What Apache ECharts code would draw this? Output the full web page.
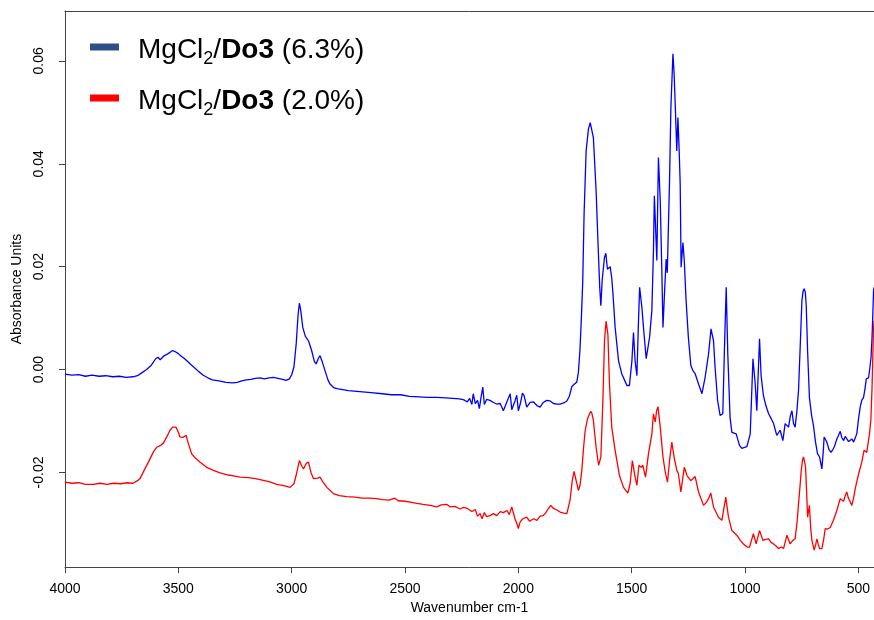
<!DOCTYPE html>
<html>
<head>
<meta charset="utf-8">
<script src="https://cdn.jsdelivr.net/npm/echarts@6/dist/echarts.min.js"></script>
<style>
html,body{margin:0;padding:0;background:#fff;}
#c{width:874px;height:620px;}
</style>
</head>
<body>
<div id="c"></div>
<script>
// Series names
var seriesNames = ['MgCl2/Do3 (6.3%)', 'MgCl2/Do3 (2.0%)'];
// Axis ticks
var xTicks = [500, 1000, 1500, 2000, 2500, 3000, 3500, 4000];
var yTicks = [-0.02, 0.00, 0.02, 0.04, 0.06];

// Blue spectrum (6.3%): wavenumber / absorbance
var blueWave = [4000,3970,3940,3910,3880,3850,3820,3790,3760,3730,3700,3680,3660,3640,3620,3600,3590,3580,3565,3545,3525,3515,3500,3490,3475,3460,3445,3430,3410,3390,3370,3350,3320,3290,3260,3240,3220,3200,3180,3160,3140,3120,3100,3080,3060,3040,3025,3010,3000,2990,2980,2972,2966,2960,2951,2940,2934,2925,2912,2900,2892,2882,2875,2865,2853,2840,2831,2815,2800,2750,2700,2650,2600,2560,2520,2480,2440,2400,2360,2320,2290,2260,2240,2225,2215,2205,2199,2190,2180,2172,2165,2157,2150,2140,2125,2110,2095,2080,2066,2050,2036,2029,2022,2014,2007,2000,1990,1982,1975,1963,1948,1933,1918,1904,1890,1875,1860,1845,1830,1816,1800,1786,1775,1764,1752,1742,1735,1728,1722,1716,1710,1701,1691,1683,1678,1669,1657,1649,1641,1636,1630,1620,1614,1607,1601,1595,1588,1583,1573,1558,1544,1530,1521,1510,1499,1492,1485,1477,1471,1465,1455,1448,1436,1421,1411,1404,1400,1392,1389,1382,1374,1367,1362,1355,1348,1343,1333,1327,1318,1313,1307,1301,1296,1291,1286,1282,1274,1268,1260,1250,1239,1230,1220,1205,1190,1176,1161,1150,1139,1132,1121,1110,1098,1091,1083,1076,1066,1058,1039,1024,1014,992,977,965,955,948,942,936,929,919,908,896,885,874,860,845,833,823,818,808,800,793,786,779,771,764,757,749,744,739,734,730,724,716,706,698,689,680,671,661,655,651,645,639,630,621,613,606,600,595,588,580,573,565,558,551,543,536,528,521,514,507,499,492,485,477,470,465,455,449,444,440,436,433,431];
var blueAbs = [-0.0009,-0.0011,-0.0010,-0.0013,-0.0011,-0.0013,-0.0012,-0.0014,-0.0013,-0.0015,-0.0014,-0.0012,-0.0006,0.0000,0.0008,0.0021,0.0024,0.0019,0.0026,0.0031,0.0037,0.0035,0.0031,0.0027,0.0022,0.0016,0.0010,0.0004,-0.0004,-0.0011,-0.0016,-0.0020,-0.0022,-0.0025,-0.0026,-0.0025,-0.0022,-0.0020,-0.0019,-0.0017,-0.0016,-0.0018,-0.0016,-0.0015,-0.0017,-0.0019,-0.0021,-0.0018,-0.0010,0.0005,0.0050,0.0105,0.0129,0.0115,0.0082,0.0065,0.0066,0.0055,0.0037,0.0016,0.0011,0.0022,0.0027,0.0015,-0.0002,-0.0020,-0.0028,-0.0035,-0.0037,-0.0041,-0.0043,-0.0045,-0.0047,-0.0049,-0.0049,-0.0052,-0.0053,-0.0054,-0.0054,-0.0055,-0.0056,-0.0057,-0.0059,-0.0063,-0.0056,-0.0068,-0.0047,-0.0066,-0.0060,-0.0076,-0.0055,-0.0034,-0.0068,-0.0058,-0.0060,-0.0064,-0.0067,-0.0066,-0.0080,-0.0062,-0.0047,-0.0078,-0.0080,-0.0060,-0.0050,-0.0080,-0.0064,-0.0046,-0.0050,-0.0073,-0.0064,-0.0063,-0.0070,-0.0073,-0.0064,-0.0060,-0.0061,-0.0066,-0.0067,-0.0067,-0.0065,-0.0061,-0.0052,-0.0033,-0.0028,-0.0024,-0.0005,0.0040,0.0100,0.0170,0.0302,0.0425,0.0467,0.0480,0.0480,0.0451,0.0348,0.0251,0.0160,0.0124,0.0175,0.0218,0.0226,0.0195,0.0192,0.0200,0.0178,0.0150,0.0082,0.0017,-0.0008,-0.0022,-0.0031,-0.0031,0.0017,0.0072,0.0017,-0.0012,0.0080,0.0160,0.0121,0.0082,0.0021,0.0063,0.0115,0.0231,0.0338,0.0338,0.0212,0.0412,0.0328,0.0192,0.0082,0.0150,0.0215,0.0188,0.0367,0.0509,0.0614,0.0577,0.0503,0.0425,0.0490,0.0432,0.0361,0.0199,0.0247,0.0212,0.0134,0.0063,0.0008,-0.0002,-0.0008,-0.0028,-0.0047,-0.0015,0.0030,0.0079,0.0056,0.0004,-0.0060,-0.0089,-0.0086,0.0037,0.0160,0.0030,-0.0093,-0.0122,-0.0125,-0.0148,-0.0153,-0.0150,-0.0125,0.0021,-0.0028,-0.0080,-0.0010,0.0060,-0.0012,-0.0050,-0.0070,-0.0086,-0.0095,-0.0105,-0.0128,-0.0118,-0.0138,-0.0105,-0.0108,-0.0112,-0.0090,-0.0080,-0.0105,-0.0112,-0.0080,-0.0041,0.0040,0.0134,0.0152,0.0157,0.0150,0.0125,0.0037,-0.0054,-0.0090,-0.0109,-0.0141,-0.0164,-0.0170,-0.0193,-0.0160,-0.0131,-0.0136,-0.0141,-0.0155,-0.0161,-0.0156,-0.0150,-0.0142,-0.0135,-0.0128,-0.0120,-0.0132,-0.0138,-0.0130,-0.0128,-0.0140,-0.0138,-0.0135,-0.0141,-0.0133,-0.0125,-0.0095,-0.0073,-0.0060,-0.0054,-0.0035,-0.0018,-0.0016,0.0004,0.0024,0.0060,0.0110,0.0153,0.0160];

// Red spectrum (2.0%): wavenumber / absorbance
var redWave = [4000,3970,3940,3910,3875,3845,3815,3785,3755,3725,3700,3680,3669,3650,3632,3610,3595,3580,3566,3550,3537,3525,3510,3500,3493,3480,3466,3455,3441,3425,3404,3375,3345,3316,3280,3250,3228,3190,3160,3140,3100,3066,3030,3007,2990,2980,2966,2955,2948,2935,2926,2915,2904,2885,2875,2860,2845,2816,2790,2757,2720,2690,2660,2625,2600,2570,2545,2530,2500,2470,2448,2420,2389,2360,2340,2316,2300,2280,2257,2242,2225,2205,2190,2180,2169,2160,2150,2140,2125,2110,2095,2080,2066,2050,2040,2029,2015,2006,2000,1992,1980,1963,1950,1933,1918,1904,1890,1882,1870,1857,1845,1830,1816,1800,1786,1772,1762,1754,1745,1735,1728,1720,1712,1705,1695,1685,1680,1675,1669,1657,1646,1636,1627,1620,1613,1605,1598,1588,1573,1554,1536,1517,1507,1497,1485,1477,1468,1458,1451,1439,1426,1411,1404,1396,1390,1384,1374,1362,1352,1342,1333,1323,1313,1301,1294,1283,1268,1256,1239,1220,1205,1183,1170,1161,1151,1139,1117,1102,1085,1073,1058,1036,1021,1007,990,980,963,951,936,921,908,896,885,874,863,852,840,830,815,801,789,779,770,764,757,752,746,742,737,733,728,724,716,710,705,695,688,683,677,671,661,653,646,636,624,610,595,580,572,565,558,551,544,539,529,521,514,499,485,475,469,463,456,451,445,440,436,433,431];
var redAbs = [-0.0219,-0.0221,-0.0220,-0.0223,-0.0223,-0.0221,-0.0223,-0.0221,-0.0222,-0.0220,-0.0221,-0.0216,-0.0212,-0.0195,-0.0180,-0.0160,-0.0151,-0.0148,-0.0143,-0.0130,-0.0118,-0.0112,-0.0112,-0.0122,-0.0131,-0.0132,-0.0128,-0.0145,-0.0164,-0.0172,-0.0180,-0.0190,-0.0196,-0.0201,-0.0205,-0.0207,-0.0209,-0.0210,-0.0212,-0.0214,-0.0218,-0.0223,-0.0226,-0.0229,-0.0222,-0.0205,-0.0177,-0.0188,-0.0193,-0.0182,-0.0180,-0.0200,-0.0212,-0.0211,-0.0209,-0.0220,-0.0229,-0.0241,-0.0245,-0.0247,-0.0248,-0.0250,-0.0250,-0.0251,-0.0253,-0.0254,-0.0250,-0.0255,-0.0256,-0.0258,-0.0260,-0.0262,-0.0264,-0.0267,-0.0263,-0.0262,-0.0267,-0.0266,-0.0271,-0.0268,-0.0270,-0.0276,-0.0272,-0.0285,-0.0280,-0.0290,-0.0278,-0.0286,-0.0284,-0.0280,-0.0284,-0.0276,-0.0278,-0.0274,-0.0282,-0.0267,-0.0290,-0.0300,-0.0309,-0.0296,-0.0290,-0.0287,-0.0295,-0.0290,-0.0293,-0.0285,-0.0284,-0.0280,-0.0272,-0.0264,-0.0270,-0.0273,-0.0277,-0.0279,-0.0280,-0.0254,-0.0215,-0.0198,-0.0216,-0.0235,-0.0225,-0.0196,-0.0150,-0.0118,-0.0096,-0.0085,-0.0081,-0.0086,-0.0099,-0.0151,-0.0186,-0.0170,-0.0060,0.0056,0.0094,0.0069,-0.0028,-0.0112,-0.0157,-0.0206,-0.0229,-0.0240,-0.0222,-0.0177,-0.0209,-0.0225,-0.0186,-0.0190,-0.0186,-0.0209,-0.0164,-0.0125,-0.0086,-0.0102,-0.0080,-0.0072,-0.0112,-0.0170,-0.0199,-0.0219,-0.0177,-0.0141,-0.0170,-0.0196,-0.0202,-0.0238,-0.0190,-0.0206,-0.0216,-0.0208,-0.0238,-0.0264,-0.0258,-0.0251,-0.0240,-0.0267,-0.0287,-0.0293,-0.0248,-0.0287,-0.0313,-0.0322,-0.0332,-0.0339,-0.0345,-0.0345,-0.0319,-0.0339,-0.0313,-0.0332,-0.0330,-0.0329,-0.0336,-0.0339,-0.0343,-0.0348,-0.0345,-0.0348,-0.0322,-0.0339,-0.0332,-0.0329,-0.0295,-0.0261,-0.0225,-0.0196,-0.0175,-0.0170,-0.0180,-0.0190,-0.0240,-0.0287,-0.0264,-0.0310,-0.0332,-0.0351,-0.0340,-0.0329,-0.0340,-0.0348,-0.0348,-0.0330,-0.0309,-0.0310,-0.0307,-0.0293,-0.0274,-0.0251,-0.0248,-0.0256,-0.0245,-0.0238,-0.0250,-0.0254,-0.0264,-0.0250,-0.0232,-0.0203,-0.0180,-0.0157,-0.0160,-0.0161,-0.0140,-0.0125,-0.0099,-0.0040,0.0030,0.0080,0.0095];

function pairs(xs, ys) {
  var out = [];
  for (var i = 0; i < xs.length; i++) out.push([xs[i], ys[i]]);
  return out;
}

var chart = echarts.init(document.getElementById('c'), null, {renderer: 'canvas'});
var fam = 'Liberation Sans, Arial, sans-serif';
var axisFont = {fontFamily: fam, fontSize: 14, color: '#000'};
var legendFormats = {};
legendFormats[seriesNames[0]] = '{f|MgCl}{s|2}{n|/}{b|Do3}{n| (6.3%)}';
legendFormats[seriesNames[1]] = '{f|MgCl}{s|2}{n|/}{b|Do3}{n| (2.0%)}';

chart.setOption({
  animation: false,
  backgroundColor: '#fff',
  grid: {left: 65, top: 11, right: 0, bottom: 52, containLabel: false},
  legend: {
    orient: 'vertical',
    left: 85,
    top: 21,
    itemWidth: 29,
    itemHeight: 7,
    itemGap: 9,
    icon: 'rect',
    data: [
      {name: seriesNames[0], itemStyle: {color: '#2F4F88'}},
      {name: seriesNames[1], itemStyle: {color: '#FF0000'}}
    ],
    formatter: function (name) { return legendFormats[name]; },
    textStyle: {
      color: '#000',
      fontFamily: fam,
      fontSize: 28,
      rich: {
        f: {fontSize: 28, lineHeight: 38, padding: [6, 0, 0, 14], fontFamily: fam, color: '#000'},
        n: {fontSize: 28, lineHeight: 38, padding: [6, 0, 0, 0], fontFamily: fam, color: '#000'},
        b: {fontSize: 28, lineHeight: 38, padding: [6, 0, 0, 0], fontWeight: 'bold', fontFamily: fam, color: '#000'},
        s: {fontSize: 18, lineHeight: 18, padding: [24, 0, 0, 0], fontFamily: fam, color: '#000'}
      }
    }
  },
  xAxis: [{
    type: 'value',
    inverse: true,
    min: 431,
    max: 4000,
    position: 'bottom',
    name: 'Wavenumber cm-1',
    nameLocation: 'middle',
    nameGap: 30,
    nameTextStyle: axisFont,
    axisLine: {show: true, onZero: false, lineStyle: {color: '#444', width: 1}},
    axisTick: {show: true, inside: false, length: 6, customValues: xTicks, lineStyle: {color: '#444'}},
    axisLabel: {show: true, margin: 15, customValues: xTicks, formatter: function (v) { return String(v); }, fontFamily: fam, fontSize: 14, color: '#000'},
    splitLine: {show: false}
  }, {
    type: 'value',
    inverse: true,
    min: 431,
    max: 4000,
    position: 'top',
    axisLine: {show: true, onZero: false, lineStyle: {color: '#444', width: 1}},
    axisTick: {show: false},
    axisLabel: {show: false},
    splitLine: {show: false}
  }],
  yAxis: {
    type: 'value',
    min: -0.0384,
    max: 0.0697,
    name: 'Absorbance Units',
    nameLocation: 'middle',
    nameGap: 40,
    nameRotate: 90,
    nameTextStyle: axisFont,
    axisLine: {show: true, onZero: false, lineStyle: {color: '#444', width: 1}},
    axisTick: {show: true, inside: false, length: 6, customValues: yTicks, lineStyle: {color: '#444'}},
    axisLabel: {show: true, rotate: 90, margin: 19, customValues: yTicks, formatter: function (v) { return v.toFixed(2); }, fontFamily: fam, fontSize: 14, color: '#000'},
    splitLine: {show: false}
  },
  series: [{
    name: seriesNames[0],
    type: 'line',
    xAxisIndex: 0,
    data: pairs(blueWave, blueAbs),
    showSymbol: false,
    symbol: 'none',
    lineStyle: {color: '#0000FF', width: 1.3},
    itemStyle: {color: '#0000FF'},
    z: 3
  }, {
    name: seriesNames[1],
    type: 'line',
    xAxisIndex: 0,
    data: pairs(redWave, redAbs),
    showSymbol: false,
    symbol: 'none',
    lineStyle: {color: '#FF0000', width: 1.3},
    itemStyle: {color: '#FF0000'},
    z: 2
  }]
});
</script>
</body>
</html>
